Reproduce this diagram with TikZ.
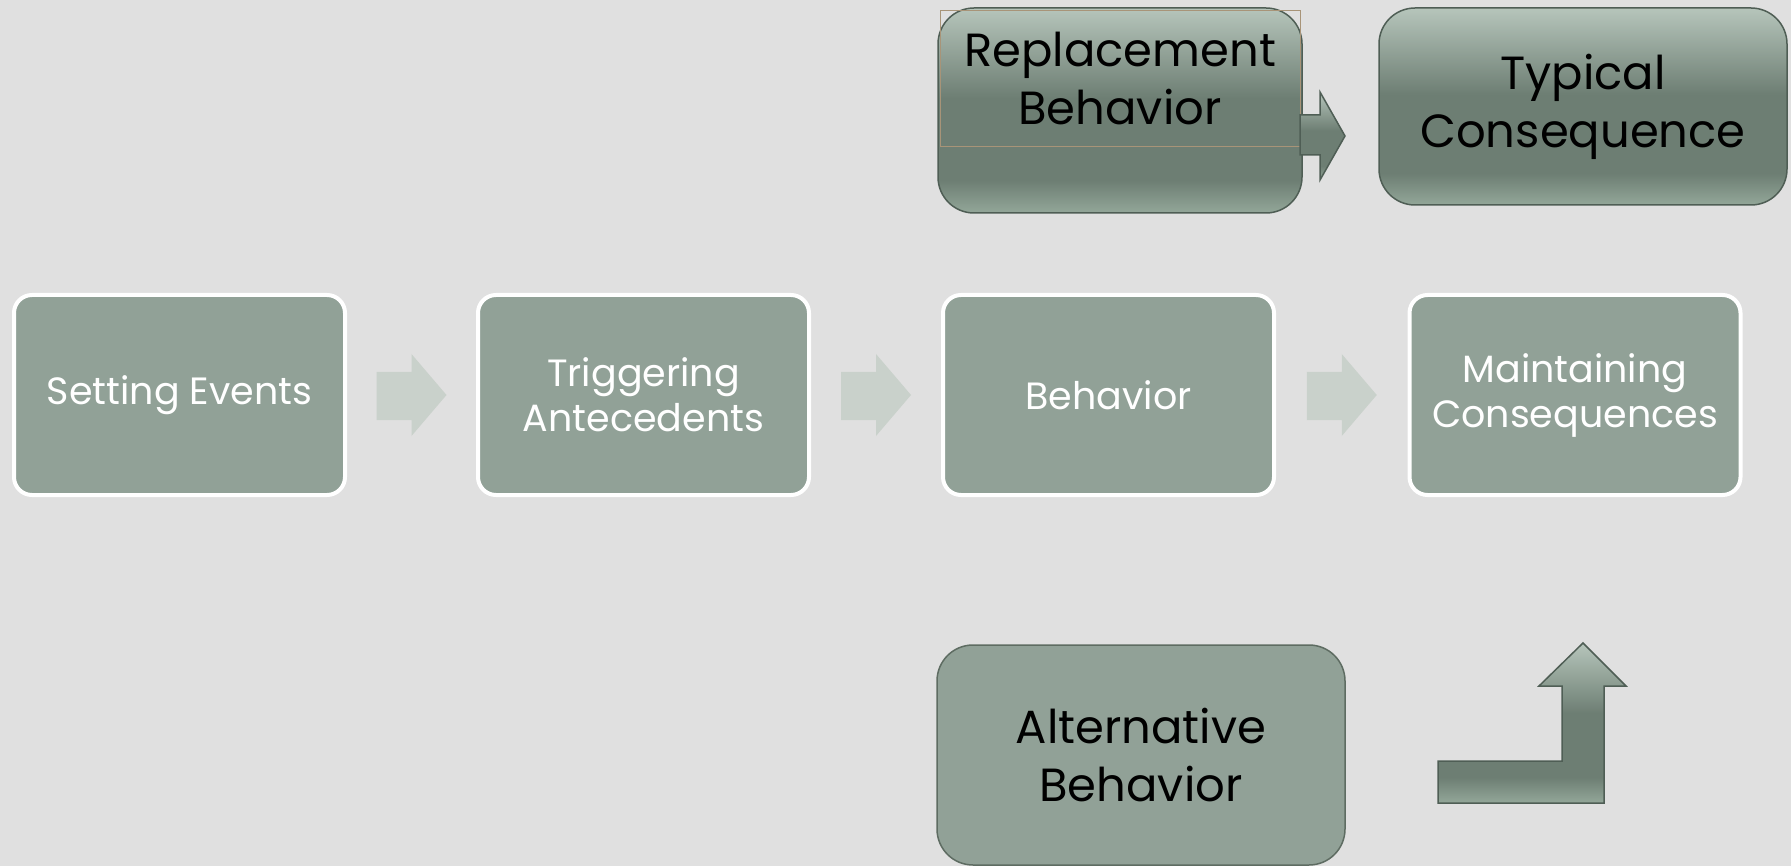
\documentclass[tikz,border=0pt]{standalone}
\usepackage{fontspec}
\setmainfont{Poppins}
\usetikzlibrary{calc}

\definecolor{bg}{HTML}{E0E0E0}
\definecolor{boxfill}{HTML}{91A197}
\definecolor{arrowlight}{HTML}{C9D1CB}
\definecolor{darkedge}{HTML}{4F5E55}
\definecolor{shadetop}{HTML}{B6C5BB}
\definecolor{shademid}{HTML}{6D7E73}
\definecolor{shadebot}{HTML}{93A799}
\definecolor{tanline}{HTML}{A89478}
\definecolor{altedge}{HTML}{5E6C62}

% glossy green: light top, dark body, lighter lower rim
% (the path spans 25bp..75bp of the shading)
\pgfdeclareverticalshading{glossgreen}{100bp}{%
  color(0bp)=(shadebot); color(25bp)=(shadebot); color(33bp)=(shademid);
  color(53bp)=(shademid); color(75bp)=(shadetop); color(100bp)=(shadetop)}

\tikzset{
  stepbox/.style={draw=white, line width=4pt, fill=boxfill, rounded corners=18pt,
    minimum width=331pt, minimum height=200pt, inner sep=0pt,
    text=white, align=center, font=\fontsize{38}{45}\selectfont},
  darkbox/.style={draw=darkedge, line width=1.5pt, shading=glossgreen,
    rounded corners=36pt, inner sep=0pt,
    align=center, font=\fontsize{46.5}{58}\selectfont},
  flatbox/.style={draw=altedge, line width=1.5pt, fill=boxfill, rounded corners=36pt,
    inner sep=0pt, align=center, font=\fontsize{46.5}{58}\selectfont},
  textframe/.style={draw=tanline, line width=1pt, inner sep=0pt, align=center,
    font=\fontsize{46.5}{58}\selectfont},
  flowarrow/.style={fill=arrowlight},
  shadedarrow/.style={draw=darkedge, line width=1.5pt, shading=glossgreen},
  pics/stepper/.style={code={
    \path[flowarrow] (-35,-23) -- (0,-23) -- (0,-41) -- (35,0) -- (0,41)
      -- (0,25) -- (-35,25) -- cycle;}}
}

\begin{document}
\begin{tikzpicture}[x=1pt, y=-1pt]
  \useasboundingbox (0,0) rectangle (1791,866);
  \fill[bg] (0,0) rectangle (1791,866);

  % main sequence
  \node[stepbox] (set)  at (179.5,395) {Setting Events};
  \node[stepbox] (trig) at (643.5,395) {Triggering\\Antecedents};
  \node[stepbox] (beh)  at (1108.5,395) {Behavior};
  \node[stepbox] (main) at (1575,395) {Maintaining\\Consequences};

  \pic at ($(set.east)!0.5!(trig.west)$) {stepper};
  \pic at ($(trig.east)!0.5!(beh.west)$) {stepper};
  \pic at ($(beh.east)!0.5!(main.west)$) {stepper};

  % replacement path
  \node[darkbox, minimum width=364pt, minimum height=205pt] (repl) at (1120,110.5) {};
  \node[textframe, minimum width=360pt, minimum height=136pt] (repltext) at (1120,79) {Replacement\\Behavior};
  \node[darkbox, minimum width=408pt, minimum height=197pt] (typ) at (1583,106.5) {Typical\\Consequence};
  \path[shadedarrow] (1300,115) -- (1320,115) -- (1320,92) -- (1345,136)
    -- (1320,180) -- (1320,155) -- (1300,155) -- cycle;

  % alternative path
  \node[flatbox, minimum width=408pt, minimum height=220pt] (alt) at (1141,755) {Alternative\\Behavior};
  \path[shadedarrow] (1438,761) -- (1562,761) -- (1562,686) -- (1539,686)
    -- (1583,643) -- (1626,686) -- (1604,686) -- (1604,803) -- (1438,803) -- cycle;
\end{tikzpicture}
\end{document}
